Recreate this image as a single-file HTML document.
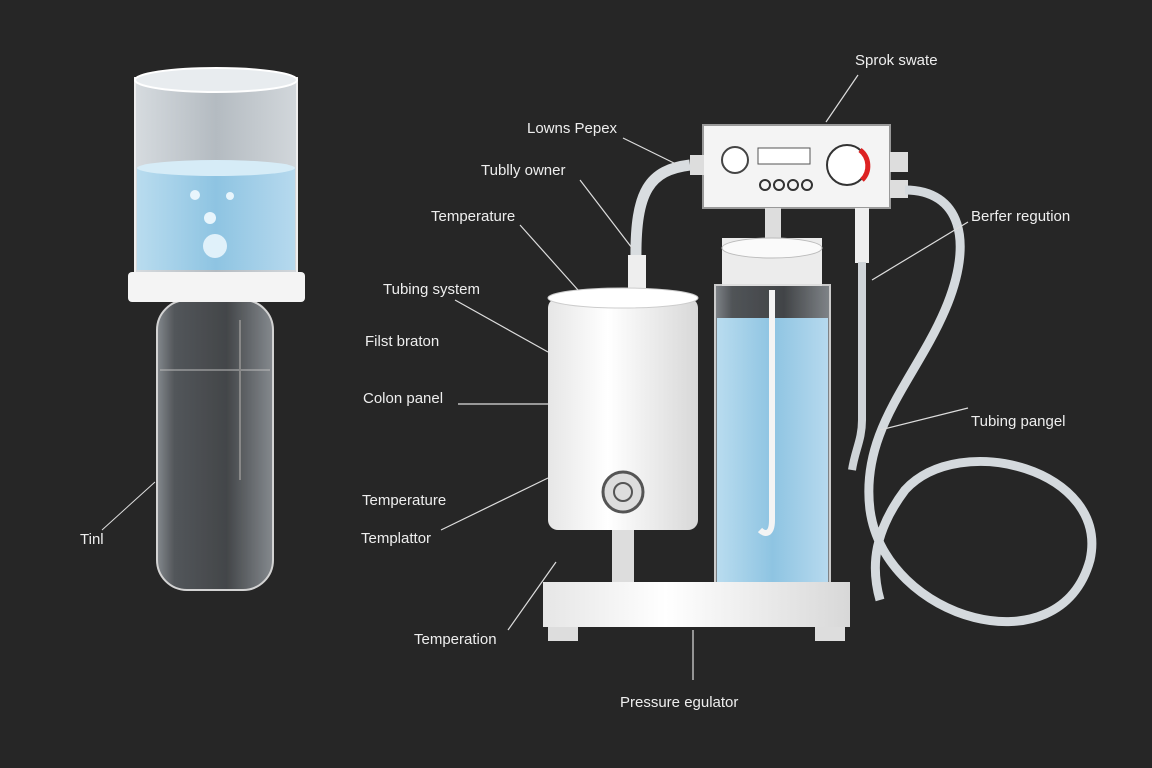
<!DOCTYPE html>
<html><head><meta charset="utf-8"><style>
html,body{margin:0;padding:0;background:#262626;}
svg{display:block}
text{font-family:"Liberation Sans",sans-serif;font-size:15px;fill:#eee}
</style></head><body>
<svg width="1152" height="768" viewBox="0 0 1152 768" xmlns="http://www.w3.org/2000/svg">
<rect width="1152" height="768" fill="#262626"/>
<defs>
<linearGradient id="glass" x1="0" x2="1"><stop offset="0" stop-color="#8a8f94"/><stop offset="0.15" stop-color="#55595d"/><stop offset="0.6" stop-color="#45484b"/><stop offset="1" stop-color="#8a8f94"/></linearGradient>
<linearGradient id="glassTop" x1="0" x2="1"><stop offset="0" stop-color="#d6dbdf"/><stop offset="0.5" stop-color="#b4bbc1"/><stop offset="1" stop-color="#d2d7db"/></linearGradient>
<linearGradient id="water" x1="0" x2="1"><stop offset="0" stop-color="#b9dcef"/><stop offset="0.5" stop-color="#8ec4e2"/><stop offset="1" stop-color="#b6d9ee"/></linearGradient>
<linearGradient id="white" x1="0" x2="1"><stop offset="0" stop-color="#e6e6e6"/><stop offset="0.4" stop-color="#ffffff"/><stop offset="1" stop-color="#d8d8d8"/></linearGradient>
</defs>

<!-- Left vessel -->
<rect x="157" y="300" width="116" height="290" rx="30" fill="url(#glass)" opacity="0.95" stroke="#ddd" stroke-width="2"/>
<line x1="160" y1="370" x2="270" y2="370" stroke="#bbb"/>
<line x1="240" y1="320" x2="240" y2="480" stroke="#888" stroke-width="2"/>
<rect x="135" y="78" width="162" height="195" fill="url(#glassTop)" stroke="#eee" stroke-width="2"/>
<ellipse cx="216" cy="80" rx="81" ry="12" fill="#e8ecef" stroke="#fff" stroke-width="2"/>
<rect x="137" y="168" width="158" height="102" fill="url(#water)"/>
<ellipse cx="216" cy="168" rx="79" ry="8" fill="#d6ecf7"/>
<circle cx="195" cy="195" r="5" fill="#e8f5fc"/><circle cx="230" cy="196" r="4" fill="#e8f5fc"/>
<circle cx="210" cy="218" r="6" fill="#e8f5fc"/><circle cx="215" cy="246" r="12" fill="#e0f1fa"/>
<rect x="128" y="272" width="177" height="30" rx="4" fill="#f4f4f4"/>
<text x="80" y="544">Tinl</text><line x1="102" y1="530" x2="155" y2="482" stroke="#ddd"/>

<!-- Control panel -->
<rect x="703" y="125" width="187" height="83" fill="#f4f4f4" stroke="#999" stroke-width="2"/>
<circle cx="735" cy="160" r="13" fill="#fff" stroke="#444" stroke-width="2"/>
<rect x="758" y="148" width="52" height="16" fill="#fff" stroke="#555"/>
<circle cx="765" cy="185" r="5" fill="none" stroke="#333" stroke-width="2"/><circle cx="779" cy="185" r="5" fill="none" stroke="#333" stroke-width="2"/><circle cx="793" cy="185" r="5" fill="none" stroke="#333" stroke-width="2"/><circle cx="807" cy="185" r="5" fill="none" stroke="#333" stroke-width="2"/>
<circle cx="847" cy="165" r="20" fill="#fff" stroke="#333" stroke-width="2"/>
<path d="M860 150 A20 20 0 0 1 862 180" stroke="#d22" stroke-width="5" fill="none"/>
<rect x="690" y="155" width="14" height="20" fill="#ddd"/><rect x="890" y="152" width="18" height="20" fill="#ddd"/><rect x="890" y="180" width="18" height="18" fill="#ddd"/>
<rect x="765" y="208" width="16" height="35" fill="#ddd"/><rect x="855" y="208" width="14" height="55" fill="#eee"/>

<!-- Tubes -->
<path d="M690 165 C650 170 635 190 636 260" stroke="#d9dde0" stroke-width="11" fill="none"/>
<path d="M905 190 C960 190 975 240 945 310 C915 380 860 430 870 510 C885 620 1060 670 1090 560 C1110 470 960 430 905 490 C875 530 870 565 880 600" stroke="#d4d9dd" stroke-width="9" fill="none"/>
<path d="M862 262 L862 420 C862 440 855 450 852 470" stroke="#cfd4d8" stroke-width="8" fill="none"/>
<rect x="628" y="255" width="18" height="40" fill="#eee"/>

<!-- White cylinder -->
<rect x="548" y="298" width="150" height="232" rx="10" fill="url(#white)"/>
<ellipse cx="623" cy="298" rx="75" ry="10" fill="#fff" stroke="#ccc"/>
<circle cx="623" cy="492" r="20" fill="#ddd" stroke="#555" stroke-width="3"/><circle cx="623" cy="492" r="9" fill="none" stroke="#555" stroke-width="2"/>
<rect x="612" y="530" width="22" height="55" fill="#ddd"/>

<!-- Clear cylinder -->
<rect x="722" y="238" width="100" height="48" fill="#ececec"/>
<ellipse cx="772" cy="248" rx="50" ry="10" fill="#fafafa" stroke="#bbb"/>
<rect x="715" y="285" width="115" height="300" fill="url(#glass)" opacity="0.9" stroke="#ddd" stroke-width="2"/>
<rect x="717" y="318" width="111" height="265" fill="url(#water)"/>
<path d="M772 290 L772 520 C772 535 765 535 760 530" stroke="#f4f4f4" stroke-width="6" fill="none"/>

<!-- Base -->
<rect x="543" y="582" width="307" height="45" fill="url(#white)"/>
<rect x="548" y="627" width="30" height="14" fill="#ddd"/><rect x="815" y="627" width="30" height="14" fill="#ddd"/>

<!-- Labels and leaders -->
<g stroke="#ddd" stroke-width="1.2">
<line x1="858" y1="75" x2="826" y2="122"/>
<line x1="623" y1="138" x2="678" y2="165"/>
<line x1="580" y1="180" x2="632" y2="248"/>
<line x1="520" y1="225" x2="578" y2="290"/>
<line x1="455" y1="300" x2="548" y2="352"/>
<line x1="458" y1="404" x2="548" y2="404"/>
<line x1="441" y1="530" x2="548" y2="478"/>
<line x1="508" y1="630" x2="556" y2="562"/>
<line x1="693" y1="630" x2="693" y2="680"/>
<line x1="968" y1="222" x2="872" y2="280"/>
<line x1="968" y1="408" x2="880" y2="430"/>
</g>
<text x="855" y="65">Sprok swate</text>
<text x="527" y="133">Lowns Pepex</text>
<text x="481" y="175">Tublly owner</text>
<text x="431" y="221">Temperature</text>
<text x="383" y="294">Tubing system</text>
<text x="365" y="346">Filst braton</text>
<text x="363" y="403">Colon panel</text>
<text x="362" y="505">Temperature</text>
<text x="361" y="543">Templattor</text>
<text x="414" y="644">Temperation</text>
<text x="620" y="707">Pressure egulator</text>
<text x="971" y="221">Berfer regution</text>
<text x="971" y="426">Tubing pangel</text>
</svg>
</body></html>
